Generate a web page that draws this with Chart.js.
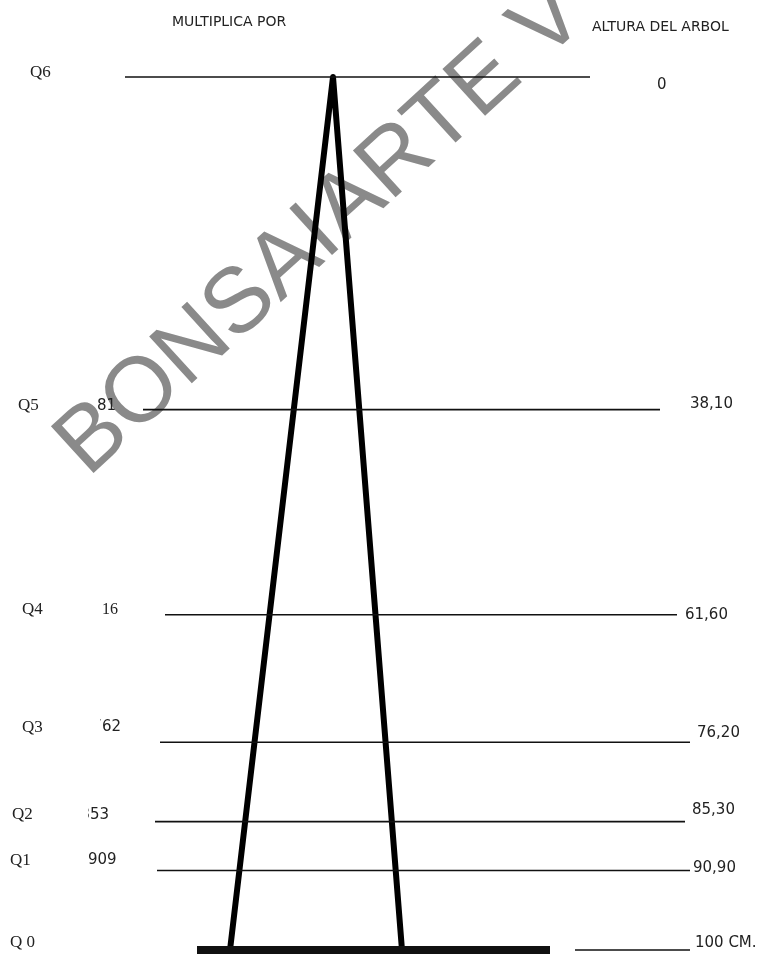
<!DOCTYPE html>
<html>
<head>
<meta charset="utf-8">
<script src="https://cdn.jsdelivr.net/npm/chart.js@4.4.1/dist/chart.umd.min.js"></script>
<style>
  body { margin: 0; background: #fff; }
  #caja { width: 784px; height: 958px; }
</style>
</head>
<body>
<div id="caja"><canvas id="grafico" width="784" height="958"></canvas></div>
<script>
// datos del esquema (altura del arbol en cm, desde la punta)
const niveles = ['Q6', 'Q5', 'Q4', 'Q3', 'Q2', 'Q1', 'Q 0'];
const alturaCm = [0, 38.10, 61.60, 76.20, 85.30, 90.90, 100];
const alturaTexto = ['0', '38,10', '61,60', '76,20', '85,30', '90,90', '100 CM.'];
const multiplica = ['', '81', '16', '762', '853', '909', ''];

// trazado horizontal de cada nivel (unidades del eje x)
const lineaDesde = [125, 143, 165, 160, 155, 157, 197];
const lineaHasta = [590, 660, 677, 690, 685, 690, 550];

const datasets = [];
alturaCm.forEach(function (h, i) {
    datasets.push({
        data: [{ x: lineaDesde[i], y: h }, { x: lineaHasta[i], y: h }],
        borderColor: '#111',
        borderWidth: i === 6 ? 8 : 1.6,
        borderCapStyle: 'butt',
        pointRadius: 0,
        clip: false
    });
});
// tramo fino a la derecha de la base
datasets.push({
    data: [{ x: 575, y: 100 }, { x: 690, y: 100 }],
    borderColor: '#111', borderWidth: 1.6, pointRadius: 0, clip: false
});
// el triangulo (arbol)
datasets.push({
    data: [{ x: 230, y: 100 }, { x: 333, y: 0 }, { x: 402, y: 100 }],
    borderColor: '#000', borderWidth: 6, pointRadius: 0,
    borderJoinStyle: 'round', borderCapStyle: 'butt', clip: false
});

const marcaAgua = {
    id: 'marcaAgua',
    beforeDatasetsDraw: function (chart) {
        const c = chart.ctx;
        c.save();
        c.translate(88, 478);
        c.rotate(-0.74);
        c.fillStyle = 'rgba(125,125,125,0.9)';
        c.font = '92px "Liberation Sans", Arial, sans-serif';
        c.textBaseline = 'alphabetic';
        c.fillText('BONSAIARTE V', 0, 0);
        c.restore();
    }
};

const textos = {
    id: 'textos',
    afterDatasetsDraw: function (chart) {
        const c = chart.ctx;
        const y = chart.scales.y;
        c.save();
        c.fillStyle = '#222';
        c.textBaseline = 'middle';

        c.font = '14px "DejaVu Sans", sans-serif';
        c.textAlign = 'left';
        c.fillText('MULTIPLICA POR', 172, 22);
        c.fillText('ALTURA DEL ARBOL', 592, 27);

        const qx = [30, 18, 22, 22, 12, 10, 10];
        const dy = [-4, -4, -5, -15, -7, -10, -7];
        const mx = [0, 97, 102, 100, 88, 88, 0];
        const tx = [657, 690, 685, 697, 692, 693, 695];
        const tdy = [8, -6, 0, -9, -12, -2, -7];

        alturaCm.forEach(function (h, i) {
            const py = y.getPixelForValue(h);
            c.font = '17px "Liberation Serif", serif';
            c.fillText(niveles[i], qx[i], py + dy[i]);
            if (multiplica[i]) {
                c.save();
                c.beginPath();
                c.rect(mx[i], py - 40, 100, 60);
                c.clip();
                c.font = (i === 2 ? '16px "Liberation Serif", serif' : '15px "DejaVu Sans", sans-serif');
                const w = c.measureText(multiplica[i].slice(0, 1)).width;
                const x0 = (i === 3 || i === 4) ? mx[i] - w * 0.8 : mx[i];
                c.fillText(multiplica[i], x0, py + dy[i]);
                c.restore();
            }
            c.font = '15px "DejaVu Sans", sans-serif';
            c.fillText(alturaTexto[i], tx[i], py + tdy[i]);
        });
        c.restore();
    }
};

new Chart(document.getElementById('grafico').getContext('2d'), {
    type: 'line',
    data: { datasets: datasets },
    options: {
        responsive: false,
        animation: false,
        layout: { padding: { top: 77, bottom: 8, left: 0, right: 0 } },
        plugins: { legend: { display: false }, tooltip: { enabled: false } },
        scales: {
            x: { type: 'linear', min: 0, max: 784, display: false },
            y: { type: 'linear', min: 0, max: 100, reverse: true, display: false }
        }
    },
    plugins: [marcaAgua, textos]
});
</script>
</body>
</html>
